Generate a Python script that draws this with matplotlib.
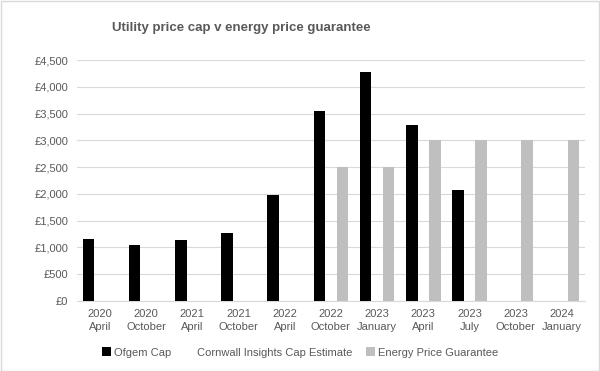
import numpy as np
import matplotlib
matplotlib.use('Agg')
import matplotlib.pyplot as plt
from matplotlib.patches import Rectangle

plt.rcParams['font.family'] = ['Liberation Sans', 'DejaVu Sans']

# data
years = ['2020', '2020', '2021', '2021', '2022', '2022', '2023', '2023', '2023', '2023', '2024']
months = ['April', 'October', 'April', 'October', 'April', 'October',
          'January', 'April', 'July', 'October', 'January']
ofgem_cap = [1162, 1042, 1138, 1277, 1971, 3549, 4279, 3280, 2074, np.nan, np.nan]
cornwall_estimate = [np.nan] * 11
price_guarantee = [np.nan, np.nan, np.nan, np.nan, np.nan, 2500, 2500, 3000, 3000, 3000, 3000]

labels = [y + '\n' + m for y, m in zip(years, months)]
text_col = '#595959'
grid_col = '#d9d9d9'

fig = plt.figure(figsize=(6, 3.71), dpi=100)
ax = fig.add_axes([0.128, 0.189, 0.847, 0.649])

x = np.arange(len(labels))
w = 0.25
ax.bar(x - w, ofgem_cap, w, color='black', label='Ofgem Cap', zorder=3)
ax.bar(x, cornwall_estimate, w, color='white', label='Cornwall Insights Cap Estimate', zorder=3)
ax.bar(x + w, price_guarantee, w, color='#bfbfbf', label='Energy Price Guarantee', zorder=3)

ax.set_xlim(-0.5, len(labels) - 0.5)
ax.set_ylim(0, 4500)
ax.set_yticks(np.arange(0, 4501, 500))
ax.set_yticklabels(['£{:,}'.format(v) for v in range(0, 4501, 500)])
ax.set_xticks(x)
ax.set_xticklabels(labels, linespacing=1.3)
ax.tick_params(axis='both', length=0, labelsize=8, colors=text_col)
ax.tick_params(axis='y', pad=6)
ax.tick_params(axis='x', pad=6)
ax.grid(axis='y', color=grid_col, linewidth=0.8, zorder=0)
for s in ['top', 'right', 'left']:
    ax.spines[s].set_visible(False)
ax.spines['bottom'].set_color(grid_col)

fig.text(0.403, 0.925, 'Utility price cap v energy price guarantee',
         ha='center', va='center', fontsize=9.5, fontweight='bold', color=text_col)

leg = ax.legend(loc='center', bbox_to_anchor=(0.5, 0.05), bbox_transform=fig.transFigure,
                ncol=3, frameon=False, fontsize=8, handlelength=0.8, handleheight=0.8,
                handletextpad=0.3, columnspacing=1.2)
for t in leg.get_texts():
    t.set_color(text_col)

fig.patches.append(Rectangle((0.001, 0.001), 0.997, 0.997, transform=fig.transFigure,
                             fill=False, edgecolor=grid_col, linewidth=1))

fig.savefig('out.png', dpi=100)
